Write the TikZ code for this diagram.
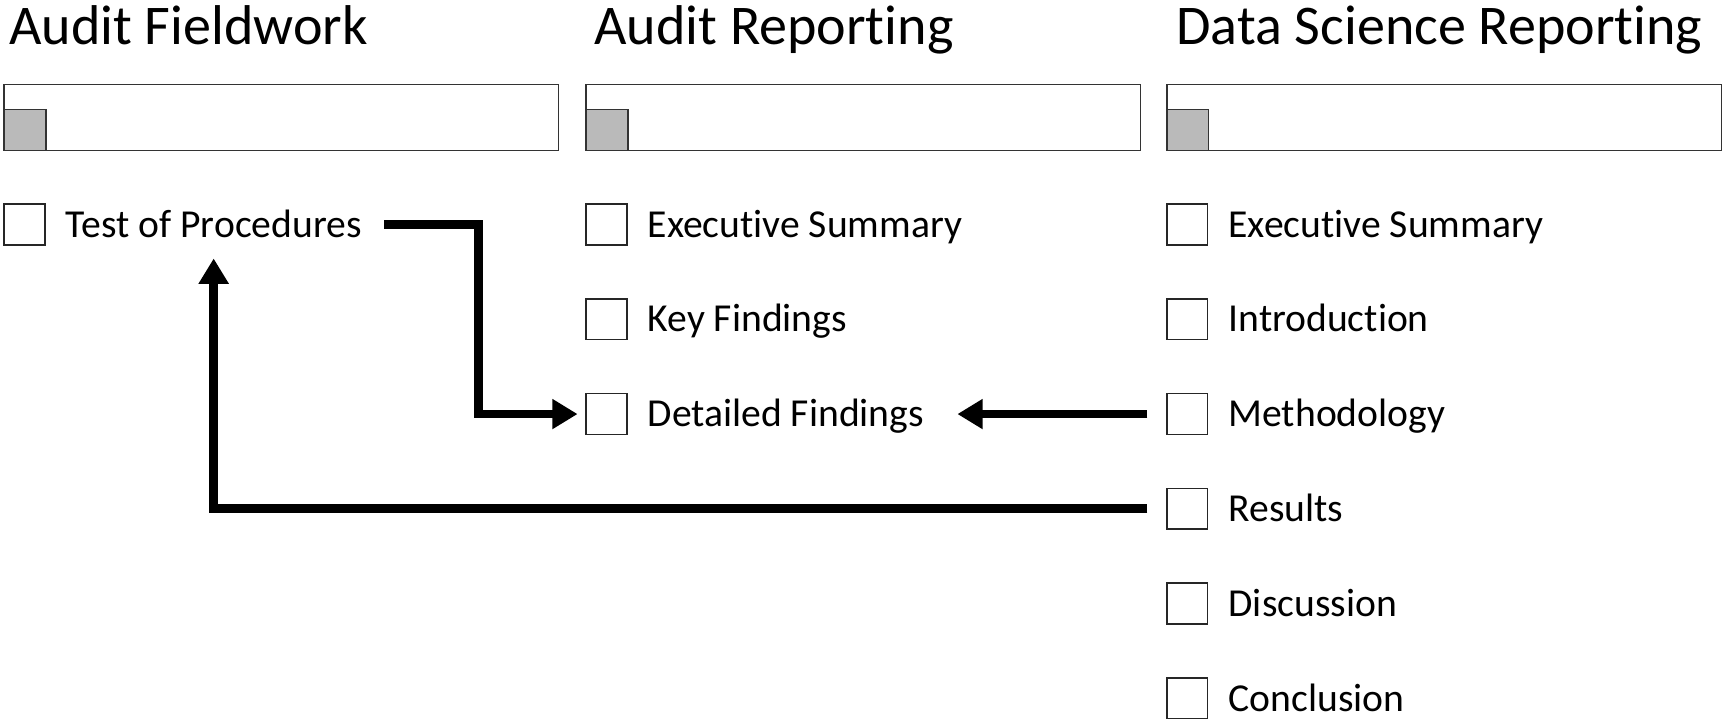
\documentclass[tikz,border=0pt]{standalone}
\usepackage{fontspec}
\setmainfont{Carlito}[Ligatures=NoCommon]
\usepackage{tikz}
\usetikzlibrary{arrows.meta, positioning}

\begin{document}
\begin{tikzpicture}[x=0.02cm, y=-0.02cm, node distance = 0.955cm,
	heading/.style = {anchor=base west, inner sep=0pt, font=\fontsize{29}{34}\selectfont},
	bar/.style = {draw=black!80, line width=0.8pt, minimum width=10.08cm, minimum height=1.2cm, anchor=north west, inner sep=0pt},
	knob/.style = {draw=black!80, fill=black!27, line width=0.8pt, minimum width=0.76cm, minimum height=0.74cm, anchor=south west, inner sep=0pt},
	tick/.style = {draw=black!85, line width=0.8pt, minimum size=0.74cm, inner sep=0pt},
	item/.style = {right = 0.36cm of #1, inner sep=0pt, text height=0.46cm, text depth=0pt, font=\fontsize{20.5}{24}\selectfont},
	flow/.style = {line width=0.16cm, -{Triangle[length=0.46cm, width=0.52cm]}}]
	\useasboundingbox (0,0) rectangle (1568,657);

	% headings
	\node[heading] (fwHead) at (8,40) {Audit Fieldwork};
	\node[heading] (arHead) at (540,40) {Audit Reporting};
	\node[heading] (dsHead) at (1069,40) {Data Science Reporting};

	% progress bars
	\node[bar] (fwBar) at (3,76) {};
	\node[bar] (arBar) at (532,76) {};
	\node[bar] (dsBar) at (1060,76) {};
	\foreach \b in {fwBar, arBar, dsBar}
		\node[knob] (\b Knob) at (\b.south west) {};

	% audit fieldwork
	\node[tick, below = 0.95cm of fwBar.south west, anchor=north west] (fwBox1) {};
	\node[item=fwBox1] (fwProc) {Test of Procedures};

	% audit reporting
	\node[tick, below = 0.95cm of arBar.south west, anchor=north west] (arBox1) {};
	\node[tick, below = of arBox1] (arBox2) {};
	\node[tick, below = of arBox2] (arBox3) {};
	\node[item=arBox1] (arExec) {Executive Summary};
	\node[item=arBox2] (arKey) {Key Findings};
	\node[item=arBox3] (arDetail) {Detailed Findings};

	% data science reporting
	\node[tick, below = 0.95cm of dsBar.south west, anchor=north west] (dsBox1) {};
	\node[tick, below = of dsBox1] (dsBox2) {};
	\node[tick, below = of dsBox2] (dsBox3) {};
	\node[tick, below = of dsBox3] (dsBox4) {};
	\node[tick, below = of dsBox4] (dsBox5) {};
	\node[tick, below = of dsBox5] (dsBox6) {};
	\node[item=dsBox1] (dsExec) {Executive Summary};
	\node[item=dsBox2] (dsIntro) {Introduction};
	\node[item=dsBox3] (dsMethod) {Methodology};
	\node[item=dsBox4] (dsResult) {Results};
	\node[item=dsBox5] (dsDisc) {Discussion};
	\node[item=dsBox6] (dsConcl) {Conclusion};

	% mappings
	\draw[flow] ([xshift=0.4cm]fwProc.east) -| ([xshift=-1.94cm]arBox3.west) -- ([xshift=-0.14cm]arBox3.west);
	\draw[flow] ([xshift=-0.34cm]dsBox3.west) -- ([xshift=0.6cm]arDetail.east);
	\draw[flow] ([xshift=-0.34cm]dsBox4.west) -| ([yshift=-0.38cm]fwProc.south);
\end{tikzpicture}
\end{document}
